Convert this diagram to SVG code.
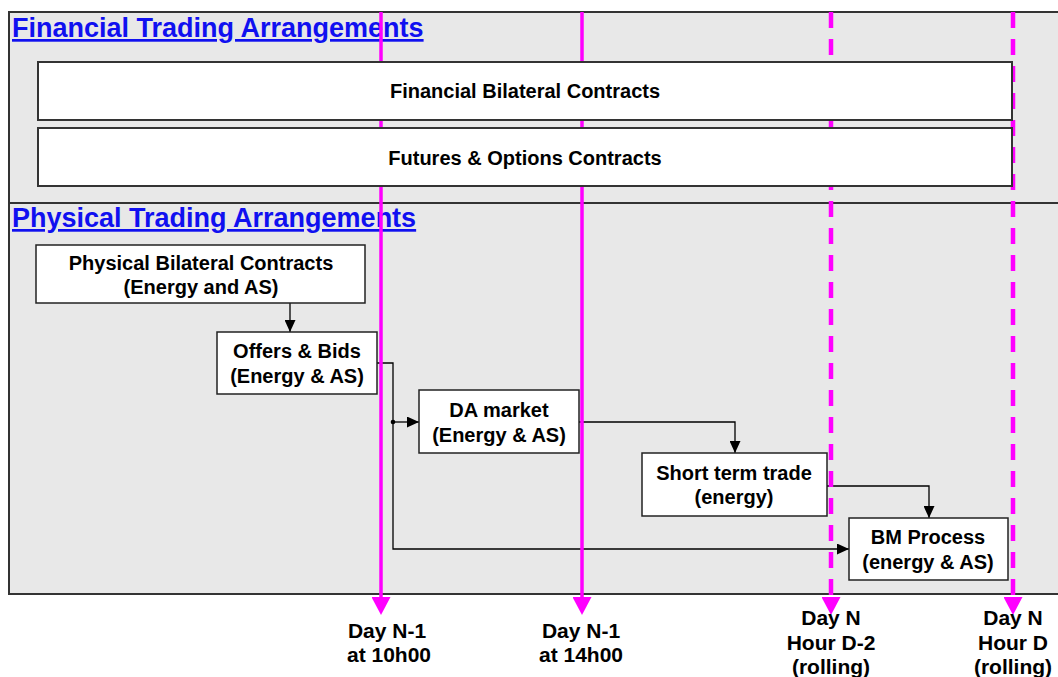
<svg xmlns="http://www.w3.org/2000/svg" width="1058" height="677" viewBox="0 0 1058 677">
<style>
.t{font-family:"Liberation Sans",Arial,sans-serif;font-weight:bold;font-size:20px;fill:#000;text-anchor:middle}
.h{font-family:"Liberation Sans",Arial,sans-serif;font-weight:bold;font-size:27px;fill:#1010f0;text-decoration:underline}
.lbl{font-family:"Liberation Sans",Arial,sans-serif;font-weight:bold;font-size:21px;fill:#000;text-anchor:middle}
.box{fill:#fff;stroke:#222;stroke-width:1.5}
.fbox{fill:#fff;stroke:#333;stroke-width:2}
.conn{fill:none;stroke:#000;stroke-width:1.3}
.mag{stroke:#ff00ff;stroke-width:3.5;fill:none}
.magd{stroke:#ff00ff;stroke-width:4.5;fill:none;stroke-dasharray:16 11}
</style>
<defs>
<marker id="ah" viewBox="0 0 12 11" markerWidth="12" markerHeight="11" refX="12" refY="5.5" orient="auto" markerUnits="userSpaceOnUse">
<path d="M0,0 L12,5.5 L0,11 z" fill="#000"/>
</marker>
<marker id="mh" viewBox="0 0 18 19" markerWidth="18" markerHeight="19" refX="0" refY="9.5" orient="auto" markerUnits="userSpaceOnUse">
<path d="M0,0 L18,9.5 L0,19 z" fill="#ff00ff"/>
</marker>
</defs>

<g id="panels">
<rect x="9" y="12" width="1060" height="582" fill="#e8e8e8" stroke="#333" stroke-width="2"/>
<line x1="9" y1="203" x2="1058" y2="203" stroke="#333" stroke-width="2"/>
<text class="h" x="12" y="37">Financial Trading Arrangements</text>
<text class="h" x="12" y="227">Physical Trading Arrangements</text>
</g>

<g id="connectors">
<path class="conn" d="M290,303 V332" marker-end="url(#ah)"/>
<path class="conn" d="M377,363 H393 V549 H849" marker-end="url(#ah)"/>
<path class="conn" d="M393,422 H419" marker-end="url(#ah)"/>
<circle cx="393" cy="422" r="2.3" fill="#000"/>
<path class="conn" d="M579,422 H735 V453" marker-end="url(#ah)"/>
<path class="conn" d="M827,486 H929 V518" marker-end="url(#ah)"/>
</g>

<g id="timelines">
<line class="mag" x1="381" y1="12" x2="381" y2="597" marker-end="url(#mh)"/>
<line class="mag" x1="582" y1="12" x2="582" y2="597" marker-end="url(#mh)"/>
<line class="magd" x1="831" y1="12" x2="831" y2="597" marker-end="url(#mh)"/>
<line class="magd" x1="1013" y1="12" x2="1013" y2="597" marker-end="url(#mh)"/>
</g>

<g id="financial-bilateral">
<rect class="fbox" x="38" y="62" width="974" height="58"/>
<text class="t" x="525" y="98">Financial Bilateral Contracts</text>
</g>
<g id="futures-options">
<rect class="fbox" x="38" y="128" width="974" height="58"/>
<text class="t" x="525" y="165">Futures &amp; Options Contracts</text>
</g>

<g id="physical-bilateral">
<rect class="box" x="36" y="245" width="329" height="58"/>
<text class="t" x="201" y="270">Physical Bilateral Contracts</text>
<text class="t" x="201" y="294">(Energy and AS)</text>
</g>
<g id="offers-bids">
<rect class="box" x="217" y="332" width="160" height="62"/>
<text class="t" x="297" y="358">Offers &amp; Bids</text>
<text class="t" x="297" y="383">(Energy &amp; AS)</text>
</g>
<g id="da-market">
<rect class="box" x="419" y="390" width="160" height="63"/>
<text class="t" x="499" y="417">DA market</text>
<text class="t" x="499" y="442">(Energy &amp; AS)</text>
</g>
<g id="short-term">
<rect class="box" x="642" y="453" width="185" height="63"/>
<text class="t" x="734" y="480">Short term trade</text>
<text class="t" x="734" y="504">(energy)</text>
</g>
<g id="bm-process">
<rect class="box" x="849" y="518" width="159" height="62"/>
<text class="t" x="928" y="544">BM Process</text>
<text class="t" x="928" y="569">(energy &amp; AS)</text>
</g>

<g id="time-labels">
<text class="lbl" x="387" y="638">Day N-1</text>
<text class="lbl" x="389" y="662">at 10h00</text>
<text class="lbl" x="581" y="638">Day N-1</text>
<text class="lbl" x="581" y="662">at 14h00</text>
<text class="lbl" x="831" y="625">Day N</text>
<text class="lbl" x="831" y="650">Hour D-2</text>
<text class="lbl" x="831" y="674">(rolling)</text>
<text class="lbl" x="1013" y="625">Day N</text>
<text class="lbl" x="1013" y="650">Hour D</text>
<text class="lbl" x="1013" y="674">(rolling)</text>
</g>
</svg>
